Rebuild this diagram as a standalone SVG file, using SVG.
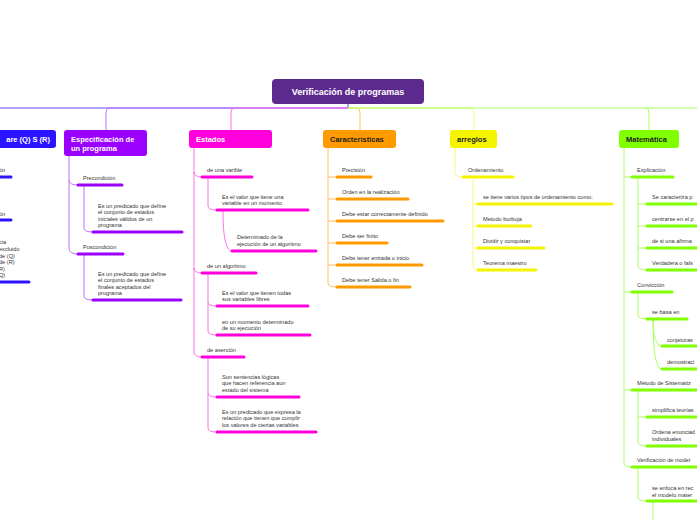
<svg xmlns="http://www.w3.org/2000/svg" width="697" height="520" viewBox="0 0 697 520">
<style>
text{font-family:"Liberation Sans",Arial,sans-serif}
.t{font-size:5.6px;fill:#333}
.h{font-size:7.5px;font-weight:bold;fill:#fff}
.hd{font-size:7.5px;font-weight:bold;fill:#222}
.c{fill:none;stroke-width:1}
.b{stroke-width:3;stroke-linecap:round;fill:none}
.B{stroke:#2b14ff}.P{stroke:#9b00ff}.M{stroke:#ff00dd}.O{stroke:#ff9a00}.Y{stroke:#f4f400}.G{stroke:#80ff00}
.cB{stroke:#5a4aff}.cP{stroke:#c070ff}.cM{stroke:#ff70e8}.cO{stroke:#ffc060}.cY{stroke:#f8f880}.cG{stroke:#a8ff60}
</style>
<g id="connectors">
<path class="c cB" d="M348,104 V108 H0"/>
<path class="c cP" d="M348,108 H110 Q106,108 106,112 V130"/>
<path class="c cM" d="M348,108 H235 Q231,108 231,112 V130"/>
<path class="c cO" d="M348,108 H356 Q360,108 360,112 V130"/>
<path class="c cY" d="M348,108 H470 Q474,108 474,112 V130"/>
<path class="c cG" d="M348,108 H697 M645,108 Q649,108 649,112 V130"/>
<path class="c cP" d="M69,156 V180 Q69,185 78,185 M69,180 V248 Q69,254 78,254 M84,186 V228 Q84,232 93,232 M84,255 V296 Q84,300 93,300"/>
<path class="c cM" d="M194,148 V172 Q194,177 202,177 M194,172 V268 Q194,273 202,273 M194,268 V352 Q194,357 202,357 M208,178 V206 Q208,210 217,210 M223,211 Q223,251 232,251 M208,274 V302 Q208,306 217,306 M208,302 V331 Q208,335 217,335 M208,358 V393 Q208,397 217,397 M208,393 V428 Q208,432 217,432"/>
<path class="c cO" d="M328,148 V283 Q328,287 337,287 M328,177 H337 M328,199 H337 M328,221 H337 M328,243 H337 M328,265 H337"/>
<path class="c cY" d="M455,148 V173 Q455,177 463,177 M473,178 V266 Q473,270 478,270 M473,204 H478 M473,226 H478 M473,248 H478"/>
<path class="c cG" d="M624,148 V463 Q624,467 632,467 M624,177 H632 M624,292 H632 M624,390 H632 M638,178 V266 Q638,270 647,270 M638,204 H647 M638,226 H647 M638,248 H647 M638,293 V315 Q638,319 647,319 M653,320 Q653,346 662,346 M653,320 Q653,369 662,369 M638,391 V442 Q638,446 647,446 M638,417 H647 M638,468 V497 Q638,501 647,501 M653,502 V520"/>
</g>
<g id="root"><rect x="272" y="79" width="152" height="25" rx="4" fill="#5c2a8e"/><text class="h" x="348" y="95" text-anchor="middle" style="font-size:9px">Verificación de programas</text></g>
<g id="hoare"><rect x="-20" y="130" width="76" height="18" rx="3" fill="#2b14ff"/><text class="h" x="50" y="142" text-anchor="end">are (Q) S (R)</text>
<text class="t" x="-1" y="172">ón</text><path class="b B" d="M0,177 H11"/>
<text class="t" x="-1" y="216">ón</text><path class="b B" d="M0,220 H11"/>
<text class="t"><tspan x="-1" y="244">cia</tspan><tspan x="-1" y="251">excluido</tspan><tspan x="-1" y="258">de (Q)</tspan><tspan x="-1" y="264">de (R)</tspan><tspan x="-1" y="271">R)</tspan><tspan x="-1" y="277">Q)</tspan></text><path class="b B" d="M0,282 H29"/></g>
<g id="spec"><rect x="64" y="130" width="83" height="26" rx="3" fill="#9b00ff"/><text class="h"><tspan x="71" y="142">Especificación de</tspan><tspan x="71" y="151">un programa</tspan></text>
<text class="t" x="83" y="180">Precondición</text><path class="b P" d="M78,185 H122"/>
<text class="t"><tspan x="98" y="208">Es un predicado que define</tspan><tspan x="98" y="214">el conjunto de estados</tspan><tspan x="98" y="221">iniciales válidos de un</tspan><tspan x="98" y="227">programa</tspan></text><path class="b P" d="M93,232 H182"/>
<text class="t" x="83" y="249">Poscondición</text><path class="b P" d="M78,254 H123"/>
<text class="t"><tspan x="98" y="276">Es un predicado que define</tspan><tspan x="98" y="282">el conjunto de estados</tspan><tspan x="98" y="289">finales aceptados del</tspan><tspan x="98" y="295">programa</tspan></text><path class="b P" d="M93,300 H181"/></g>
<g id="estados"><rect x="189" y="130" width="83" height="18" rx="3" fill="#ff00dd"/><text class="h" x="196" y="142">Estados</text>
<text class="t" x="207" y="172">de una varible</text><path class="b M" d="M202,177 H252"/>
<text class="t"><tspan x="222" y="199">Es el valor que tiene una</tspan><tspan x="222" y="205">variable en un momento</tspan></text><path class="b M" d="M217,210 H308"/>
<text class="t"><tspan x="237" y="239">Determinado de la</tspan><tspan x="237" y="246">ejecución de un algoritmo</tspan></text><path class="b M" d="M232,251 H316"/>
<text class="t" x="207" y="268">de un algoritmo</text><path class="b M" d="M202,273 H256"/>
<text class="t"><tspan x="222" y="295">Es el valor que tienen todas</tspan><tspan x="222" y="301">sus variables libres</tspan></text><path class="b M" d="M217,306 H308"/>
<text class="t"><tspan x="222" y="324">en un momento determinado</tspan><tspan x="222" y="330">de su ejecución</tspan></text><path class="b M" d="M217,335 H310"/>
<text class="t" x="207" y="352">de aserción</text><path class="b M" d="M202,357 H244"/>
<text class="t"><tspan x="222" y="379">Son sentencias lógicas</tspan><tspan x="222" y="385">que hacen referencia aun</tspan><tspan x="222" y="392">estado del sistema</tspan></text><path class="b M" d="M217,397 H299"/>
<text class="t"><tspan x="222" y="414">Es un predicado que expresa la</tspan><tspan x="222" y="420">relación que tienen que cumplir</tspan><tspan x="222" y="427">los valores de ciertas variables</tspan></text><path class="b M" d="M217,432 H316"/></g>
<g id="caracteristicas"><rect x="323" y="130" width="73" height="18" rx="3" fill="#ff9a00"/><text class="hd" x="330" y="142">Características</text>
<text class="t" x="342" y="172">Precisión</text><path class="b O" d="M337,177 H371"/>
<text class="t" x="342" y="194">Orden en la realización</text><path class="b O" d="M337,199 H408"/>
<text class="t" x="342" y="216">Debe estar correctamente definido</text><path class="b O" d="M337,221 H443"/>
<text class="t" x="342" y="238">Debe ser finito</text><path class="b O" d="M337,243 H387"/>
<text class="t" x="342" y="260">Debe tener entrada o inicio</text><path class="b O" d="M337,265 H422"/>
<text class="t" x="342" y="282">Debe tener Salida o fin</text><path class="b O" d="M337,287 H410"/></g>
<g id="arreglos"><rect x="450" y="130" width="47" height="18" rx="3" fill="#f4f400"/><text class="hd" x="457" y="142">arreglos</text>
<text class="t" x="468" y="172">Ordenamiento</text><path class="b Y" d="M463,177 H513"/>
<text class="t" x="483" y="199">se tiene varios tipos de ordenamiento como:</text><path class="b Y" d="M478,204 H612"/>
<text class="t" x="483" y="221">Metodo burbuja</text><path class="b Y" d="M478,226 H531"/>
<text class="t" x="483" y="243">Dividir y conquistar</text><path class="b Y" d="M478,248 H544"/>
<text class="t" x="483" y="265">Teorema maestro</text><path class="b Y" d="M478,270 H536"/></g>
<g id="matematica"><rect x="619" y="130" width="60" height="18" rx="3" fill="#80ff00"/><text class="hd" x="626" y="142">Matemática</text>
<text class="t" x="637" y="172">Explicación</text><path class="b G" d="M632,177 H673"/>
<text class="t" x="652" y="199">Se caracteriza p</text><path class="b G" d="M647,204 H699"/>
<text class="t" x="652" y="221">centrarse en el p</text><path class="b G" d="M647,226 H699"/>
<text class="t" x="652" y="243">de si una afirma</text><path class="b G" d="M647,248 H699"/>
<text class="t" x="652" y="265">Verdadera o fals</text><path class="b G" d="M647,270 H699"/>
<text class="t" x="637" y="287">Convicción</text><path class="b G" d="M632,292 H672"/>
<text class="t" x="652" y="314">se basa en</text><path class="b G" d="M647,319 H687"/>
<text class="t" x="667" y="342">conjeturas</text><path class="b G" d="M662,346 H699"/>
<text class="t" x="667" y="364">demostraci</text><path class="b G" d="M662,369 H699"/>
<text class="t" x="637" y="385">Método de Sistematiz</text><path class="b G" d="M632,390 H699"/>
<text class="t" x="652" y="412">simplifica teorías</text><path class="b G" d="M647,417 H699"/>
<text class="t"><tspan x="652" y="434">Ordena enunciad</tspan><tspan x="652" y="441">individuales</tspan></text><path class="b G" d="M647,446 H699"/>
<text class="t" x="637" y="462">Verificación de model</text><path class="b G" d="M632,467 H699"/>
<text class="t"><tspan x="652" y="490">se enfoca en rec</tspan><tspan x="652" y="497">el modelo mater</tspan></text><path class="b G" d="M647,501 H699"/></g>
</svg>
